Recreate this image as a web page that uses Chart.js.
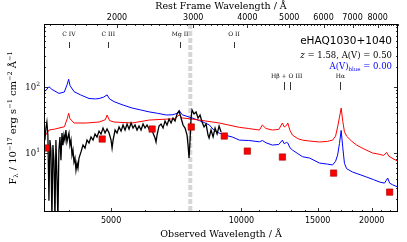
<!DOCTYPE html>
<html>
<head>
<meta charset="utf-8">
<script src="https://cdn.jsdelivr.net/npm/chart.js@4"></script>
<style>
  html, body { margin: 0; padding: 0; background: #fff; }
</style>
</head>
<body>
<canvas id="spec" width="407" height="242"></canvas>
<script>
var redshift = 1.58;

// observed spectrum (black)
var specWave = [3517,3536,3554,3573,3593,3612,3631,3651,3670,3690,3710,3729,3749,3769,3789,3810,
  3830,3851,3871,3892,3912,3933,3954,3976,3997,4018,4040,4062,4083,4105,4127,4149,4171,4193,4216,
  4261,4307,4353,4400,4447,4494,4543,4591,4640,4690,4740,4791,4843,4894,4947,
  5000,5027,5054,
  5108,5162,5217,5273,5329,5386,5444,5502,5561,5620,5680,5741,5802,5864,5927,5990,6054,6119,6184,6250,6317,
  6351,6385,
  6453,6522,6592,6662,6734,6806,6879,6952,7027,7102,7178,7255,7332,7411,7490,
  7530,7570,7611,7651,7692,
  7774,7857,7941,8026,8112,8199,8287,8375,
  8420,
  8510,8602,8694,8787,8881,8976];
var specFlux = [15.7,23.9,29.5,18.7,1.9,15.7,11.1,1.0,13.2,7.8,1.0,15.7,4.6,1.0,11.1,17.5,
  7.8,20.1,13.2,18.7,15.7,22.3,14.7,17.5,20.1,13.2,15.7,9.3,11.1,7.3,8.4,5.5,7.05,5.9,8.4,
  10.4,13.2,11.9,15.7,14.2,17.5,15.7,19.4,17.5,21.5,19.4,23.9,20.1,23.1,20.1,
  15.7,11.9,15.7,
  22.3,20.1,24.8,21.5,26.6,22.3,27.5,23.1,28.5,23.9,26.6,22.3,25.7,22.3,27.5,23.9,26.6,23.1,24.8,20.1,16.9,
  14.7,18.7,
  25.7,27.5,23.9,30.5,26.6,32.7,28.5,33.9,30.5,39.0,43.3,33.9,26.6,23.9,18.7,
  13.2,8.4,15.7,33.9,44.8,
  39.0,41.8,33.9,37.6,29.5,24.8,27.5,18.7,
  16.9,
  22.3,17.5,23.9,19.4,25.7,20.8];

// model with A(V) = 0.50 (red)
var redWave = [3500,3530,3594,3700,3790,3900,3960,3990,4020,4107,4375,4692,4850,4896,4960,5081,5593,6123,6705,7000,
  7185,7300,7708,7990,8892,9893,10400,11005,11182,11400,11797,12200,12437,12560,12700,12800,12950,13122,13500,13841,
  14367,15154,15800,16240,16500,16681,16850,17000,17150,17300,17500,18000,18458,19200,20100,20800,21300,21660,21900,22400,23000];
var redFlux = [18,18.7,22.3,23,23.9,25,33,40,33,28.5,28.5,29.5,32,37.7,31,29.5,28.5,31.6,32.6,33,
  37.7,34,32.6,31.6,28.5,24.5,23.5,22.3,26.6,23.5,22.3,22.8,28.5,24.8,26,28.5,22,18.7,16.5,15.7,
  15.2,14.7,15,15.7,18,24.8,35,48,30,21,18,15,13.2,11.5,10,9.6,9.2,10.2,9,8.2,7.5];

// model with A(V) = 0 (blue)
var blueWave = [3500,3530,3594,3650,3790,3900,3960,3990,4020,4107,4250,4447,4600,4692,4800,4896,4960,5081,5300,5593,
  5850,6123,6400,6705,6950,7100,7185,7300,7580,7800,7990,8200,8434,8650,8892,9200,9530,9893,10400,11005,
  11182,11400,11797,12200,12437,12560,12700,12800,12950,13122,13500,13841,14367,15154,15800,16240,16500,16681,16850,17000,
  17150,17300,17500,18065,18800,19470,20200,20866,21400,21776,22000,22361,23000];
var blueFlux = [86,88,101,92,80,84,110,131,105,85,76,67,66,67,70,76,66,60,54,48,
  45,42,40,37.7,38,40,44,38,35,33,31,29,26.6,22,20,18.5,17.5,15.7,15.5,14.8,
  15.5,14.3,13.2,13.5,15.7,13.8,14.5,14.2,12,11.1,9.8,8.8,8.4,7.05,6.8,6.6,7.5,9.3,14,22,
  12,7,5.8,5.15,4.7,4.33,3.95,3.64,3.5,4.18,3.5,3.3,3.05];

// photometry (red squares)
var photWave = [3540,4770,6220,7660,9130,10320,12440,16330,22000];
var photFlux = [11.9,16.3,23.1,24.8,18.1,10.7,8.7,4.97,2.56];

// emission line markers (rest frame)
var lineLabels = ["C IV", "C III", "Mg II", "O II", "Hβ + O III", "Hα"];
var lineRest = [[1549], [1909], [2798], [3727], [4861, 5007], [6563]];
var lineRow = [0, 0, 0, 0, 1, 1];

var telluricWave = 7620;

var obsTicks = [5000, 10000, 15000, 20000];
var restTicks = [2000, 3000, 4000, 5000, 6000, 7000, 8000];
var fluxTicks = [10, 100];
var fluxTickExp = ["1", "2"];

var waveMin = 3500, waveMax = 23000;
var fluxMin = 1.28, fluxMax = 900;

function pairs(w, f) {
  return w.map(function (x, i) { return {x: x, y: f[i]}; });
}

var SERIF = '"DejaVu Serif"';

function drawRuns(ctx, runs, x, y, align, color) {
  var total = 0;
  runs.forEach(function (r) {
    ctx.font = (r.it ? 'italic ' : '') + r.s + 'px ' + (r.f || SERIF);
    r.w = ctx.measureText(r.t).width;
    total += r.w;
  });
  var cx = align === 'right' ? x - total : (align === 'center' ? x - total / 2 : x);
  ctx.fillStyle = color;
  ctx.textAlign = 'left';
  ctx.textBaseline = 'alphabetic';
  runs.forEach(function (r) {
    ctx.font = (r.it ? 'italic ' : '') + r.s + 'px ' + (r.f || SERIF);
    ctx.fillText(r.t, cx, y + (r.dy || 0));
    cx += r.w;
  });
}

var decor = {
  id: 'decor',
  afterDraw: function (chart) {
    var ctx = chart.ctx, a = chart.chartArea;
    var sx = chart.scales.x, sx2 = chart.scales.x2, sy = chart.scales.y;
    ctx.save();

    // frame
    ctx.strokeStyle = '#000';
    ctx.lineWidth = 1;
    ctx.strokeRect(Math.round(a.left) + 0.5, Math.round(a.top) + 0.5,
      Math.round(a.right - a.left) - 1, Math.round(a.bottom - a.top) - 1);

    // inward ticks
    ctx.lineWidth = 0.8;
    function vtick(scale, v, len, fromTop) {
      var px = Math.round(scale.getPixelForValue(v)) + 0.5;
      ctx.beginPath();
      if (fromTop) { ctx.moveTo(px, a.top); ctx.lineTo(px, a.top + len); }
      else { ctx.moveTo(px, a.bottom); ctx.lineTo(px, a.bottom - len); }
      ctx.stroke();
    }
    function htick(v, len) {
      var py = Math.round(sy.getPixelForValue(v)) + 0.5;
      ctx.beginPath();
      ctx.moveTo(a.left, py); ctx.lineTo(a.left + len, py);
      ctx.moveTo(a.right, py); ctx.lineTo(a.right - len, py);
      ctx.stroke();
    }
    var w;
    for (w = 4000; w <= 22000; w += 1000) {
      vtick(sx, w, obsTicks.indexOf(w) >= 0 ? 4 : 2, false);
    }
    for (w = 1400; w <= 8900; w += 100) {
      vtick(sx2, w, restTicks.indexOf(w) >= 0 ? 4 : 2, true);
    }
    [1, 10, 100].forEach(function (d) {
      for (var k = 1; k <= 9; k++) {
        var v = d * k;
        if (v < fluxMin || v > fluxMax) continue;
        htick(v, fluxTicks.indexOf(v) >= 0 ? 4 : 2);
      }
    });

    // tick labels
    ctx.fillStyle = '#000';
    ctx.font = '8px "DejaVu Sans"';
    ctx.textAlign = 'center';
    ctx.textBaseline = 'alphabetic';
    obsTicks.forEach(function (v) { ctx.fillText(String(v), sx.getPixelForValue(v), a.bottom + 11); });
    restTicks.forEach(function (v) { ctx.fillText(String(v), sx2.getPixelForValue(v), a.top - 4); });
    fluxTicks.forEach(function (v, i) {
      drawRuns(ctx, [{t: '10', s: 8.5}, {t: fluxTickExp[i], s: 6, dy: -4}], a.left - 4, sy.getPixelForValue(v) + 3, 'right', '#000');
    });

    // emission line markers
    ctx.strokeStyle = '#000';
    ctx.lineWidth = 0.8;
    lineLabels.forEach(function (lab, i) {
      var xs = lineRest[i].map(function (r) { return sx.getPixelForValue(r * (1 + redshift)); });
      var mid = (xs[0] + xs[xs.length - 1]) / 2;
      var ty = lineRow[i] === 0 ? 36 : 78;
      var t0 = lineRow[i] === 0 ? 42 : 82;
      var t1 = lineRow[i] === 0 ? 48 : 90;
      drawRuns(ctx, [{t: lab, s: 6}], mid, ty, 'center', '#000');
      xs.forEach(function (px) {
        px = Math.round(px) + 0.5;
        ctx.beginPath(); ctx.moveTo(px, t0); ctx.lineTo(px, t1); ctx.stroke();
      });
    });

    // annotations
    ctx.font = '10.5px "DejaVu Sans"';
    ctx.fillStyle = '#000';
    ctx.textAlign = 'right';
    ctx.textBaseline = 'alphabetic';
    ctx.fillText('eHAQ1030+1040', 392, 44);
    drawRuns(ctx, [{t: 'z', s: 8.5, it: true}, {t: ' = 1.58, A(V) = 0.50', s: 8.5}], 392, 58, 'right', '#000');
    drawRuns(ctx, [{t: 'A(V)', s: 8.5}, {t: 'blue', s: 5.5, dy: 2}, {t: ' = 0.00', s: 8.5}], 392, 69, 'right', '#0000ff');

    // axis titles
    drawRuns(ctx, [{t: 'Rest Frame Wavelength / Å', s: 9.5}], (a.left + a.right) / 2, 9, 'center', '#000');
    drawRuns(ctx, [{t: 'Observed Wavelength / Å', s: 9.5}], (a.left + a.right) / 2, 237, 'center', '#000');
    ctx.translate(16, (a.top + a.bottom) / 2);
    ctx.rotate(-Math.PI / 2);
    drawRuns(ctx, [
      {t: 'F', s: 10}, {t: 'λ', s: 6.5, dy: 2}, {t: ' / 10', s: 10}, {t: '−17', s: 6.5, dy: -4},
      {t: ' erg s', s: 10}, {t: '−1', s: 6.5, dy: -4}, {t: ' cm', s: 10}, {t: '−2', s: 6.5, dy: -4},
      {t: ' Å', s: 10}, {t: '−1', s: 6.5, dy: -4}
    ], 0, 0, 'center', '#000');
    ctx.restore();
  }
};

function fixedScale(type, pos, min, max, size) {
  return {
    type: type,
    position: pos,
    min: min,
    max: max,
    afterFit: function (s) { if (pos === 'left') { s.width = size; } else { s.height = size; } },
    grid: {display: false},
    border: {display: false},
    ticks: {display: false}
  };
}

new Chart('spec', {
  type: 'line',
  data: {
    datasets: [{
      label: 'telluric',
      data: [{x: telluricWave, y: 0.5}, {x: telluricWave, y: 2000}],
      borderColor: 'rgba(200,200,200,0.75)',
      borderWidth: 4,
      borderDash: [5, 2],
      pointRadius: 0,
      clip: 0,
      order: 5
    }, {
      label: 'A(V)=0',
      data: pairs(blueWave, blueFlux),
      borderColor: '#0000ff',
      borderWidth: 1,
      pointRadius: 0,
      clip: 0,
      order: 4
    }, {
      label: 'A(V)=0.5',
      data: pairs(redWave, redFlux),
      borderColor: '#ff0000',
      borderWidth: 1,
      pointRadius: 0,
      clip: 0,
      order: 3
    }, {
      label: 'spectrum',
      data: pairs(specWave, specFlux),
      borderColor: '#000000',
      borderWidth: 1.3,
      pointRadius: 0,
      clip: 0,
      order: 2
    }, {
      label: 'photometry',
      data: pairs(photWave, photFlux),
      showLine: false,
      pointStyle: 'rect',
      pointRadius: 4.5,
      backgroundColor: '#ff0000',
      borderColor: '#a00000',
      borderWidth: 0.6,
      order: 1
    }]
  },
  options: {
    responsive: false,
    animation: false,
    layout: {padding: {left: 0, right: 9, top: 0, bottom: 0}},
    plugins: {legend: {display: false}, tooltip: {enabled: false}},
    scales: {
      x: fixedScale('logarithmic', 'bottom', waveMin, waveMax, 30),
      x2: fixedScale('logarithmic', 'top', waveMin / (1 + redshift), waveMax / (1 + redshift), 24),
      y: fixedScale('logarithmic', 'left', fluxMin, fluxMax, 44)
    }
  },
  plugins: [decor]
});
</script>
</body>
</html>
